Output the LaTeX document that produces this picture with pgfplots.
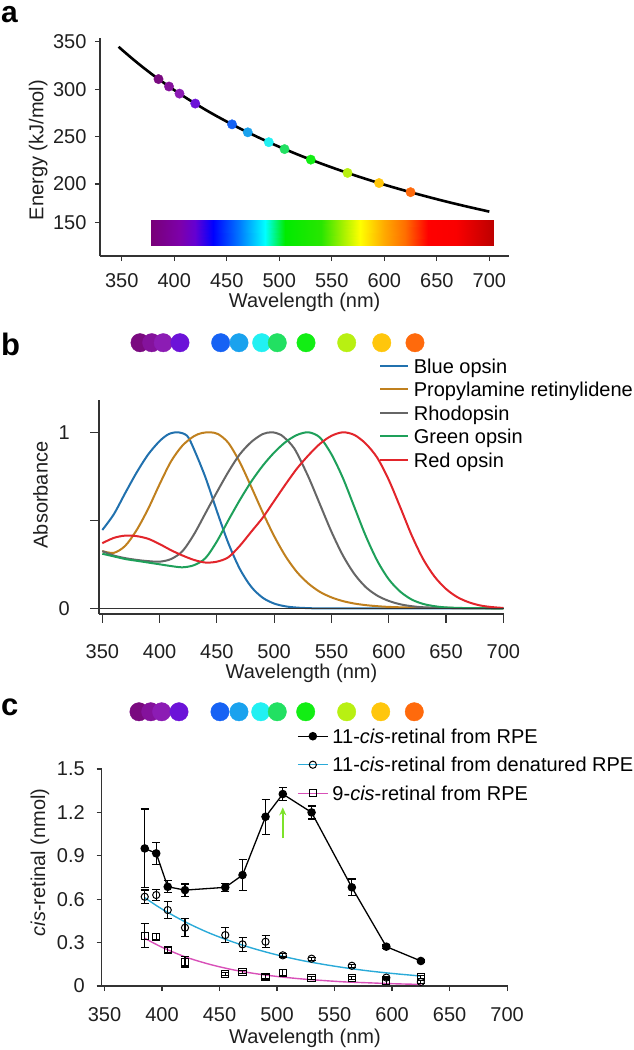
\documentclass[border=0pt]{standalone}
\usepackage{fontspec}
\setmainfont{Liberation Sans}
\usepackage{pgfplots}
\pgfplotsset{compat=1.18}
\usetikzlibrary{arrows.meta}

\definecolor{axgray}{HTML}{333333}
\definecolor{bopsin}{HTML}{2171AE}
\definecolor{propyl}{HTML}{C0801E}
\definecolor{rhod}{HTML}{666666}
\definecolor{gopsin}{HTML}{1EA05A}
\definecolor{ropsin}{HTML}{E2252B}
\definecolor{cfit}{HTML}{2AAAD8}
\definecolor{mfit}{HTML}{D850B8}
\definecolor{garrow}{HTML}{7DE22A}
\definecolor{d385}{HTML}{7A0A80}
\definecolor{d395}{HTML}{84129C}
\definecolor{d405}{HTML}{8C1CB4}
\definecolor{d420}{HTML}{6C12D8}
\definecolor{d455}{HTML}{1662F4}
\definecolor{d470}{HTML}{1AA2EE}
\definecolor{d490}{HTML}{22F0F2}
\definecolor{d505}{HTML}{22E062}
\definecolor{d530}{HTML}{12EE14}
\definecolor{d565}{HTML}{B8F012}
\definecolor{d595}{HTML}{FFC60C}
\definecolor{d625}{HTML}{FF6A0C}

\newcommand{\fs}{\fontsize{20}{24}\selectfont}

\pgfplotsset{
  base/.style={
    scale only axis, anchor=south west, clip=false,
    axis x line*=bottom, axis y line*=left,
    axis line style={-, line width=1.3pt, color=axgray},
    tick align=outside, major tick length=5pt,
    tick style={line width=1.2pt, color=axgray},
    tick label style={font=\fs, text=black!88},
    label style={font=\fs, text=black!88},
    /pgf/number format/assume math mode=true,
    xtick={350,400,450,500,550,600,650,700},
  },
  dotcls/.style={scatter/classes={
    a={mark=*, draw=d385, fill=d385},
    b={mark=*, draw=d395, fill=d395},
    c={mark=*, draw=d405, fill=d405},
    d={mark=*, draw=d420, fill=d420},
    e={mark=*, draw=d455, fill=d455},
    f={mark=*, draw=d470, fill=d470},
    g={mark=*, draw=d490, fill=d490},
    h={mark=*, draw=d505, fill=d505},
    i={mark=*, draw=d530, fill=d530},
    j={mark=*, draw=d565, fill=d565},
    k={mark=*, draw=d595, fill=d595},
    l={mark=*, draw=d625, fill=d625}}},
}

\begin{document}
\begin{tikzpicture}
\useasboundingbox (0pt,0pt) rectangle (633pt,-1050pt);

\node[anchor=base west, font=\fontsize{30}{34}\selectfont\bfseries, inner sep=0pt] at (1pt,-22pt) {a};
\node[anchor=base west, font=\fontsize{31}{36}\selectfont\bfseries, inner sep=0pt] at (1pt,-355pt) {b};
\node[anchor=base west, font=\fontsize{31}{36}\selectfont\bfseries, inner sep=0pt] at (1pt,-715pt) {c};

% ---------------- panel a ----------------
\begin{axis}[base, at={(100pt,-256pt)}, width=409.3pt, height=217.7pt,
  xmin=329.3, xmax=719, ymin=124.1, ymax=353.6,
  ytick={159.2,200,250,300,350}, yticklabels={150,200,250,300,350},
  xticklabel style={anchor=center, yshift=-19.7pt},
  yticklabel style={anchor=east, xshift=-5pt},
  xlabel={Wavelength (nm)}, ylabel={Energy (kJ/mol)},
  xlabel style={at={(axis description cs:0.5,-0.211)}, anchor=center},
  ylabel style={at={(axis description cs:-0.1507,0.487)}, anchor=center},
  colormap={spec}{rgb255(378)=(120,0,120); rgb255(405)=(125,0,170); rgb255(420)=(100,0,210);
    rgb255(437)=(0,0,255); rgb255(462)=(0,120,255); rgb255(486)=(0,255,255);
    rgb255(505)=(0,235,0); rgb255(540)=(40,230,0); rgb255(560)=(160,240,0);
    rgb255(577)=(255,255,0); rgb255(600)=(255,170,0); rgb255(620)=(255,110,0);
    rgb255(642)=(255,0,0); rgb255(668)=(250,0,0); rgb255(703.6)=(190,0,0)},
  point meta min=378, point meta max=703.6]
\addplot[surf, shader=interp, mesh/rows=2, point meta=x] coordinates {
 (378,135.7) (405,135.7) (420,135.7) (437,135.7) (462,135.7) (486,135.7) (505,135.7) (540,135.7)
 (560,135.7) (577,135.7) (600,135.7) (620,135.7) (642,135.7) (668,135.7) (703.6,135.7)

 (378,162.1) (405,162.1) (420,162.1) (437,162.1) (462,162.1) (486,162.1) (505,162.1) (540,162.1)
 (560,162.1) (577,162.1) (600,162.1) (620,162.1) (642,162.1) (668,162.1) (703.6,162.1)
};
\addplot[black, line width=2.6pt, smooth] coordinates {
 (347,344.7) (350,341.7) (360,332.2) (370,323.2) (380,314.7) (390,306.7) (400,299.0)
 (410,291.7) (420,284.8) (430,278.1) (440,271.8) (450,265.8) (460,260.0) (470,254.5)
 (480,249.2) (490,244.1) (500,239.2) (520,230.0) (540,221.5) (560,213.6) (580,206.2)
 (600,199.3) (620,192.9) (640,186.9) (660,181.2) (680,175.9) (700,170.9)
};
\addplot[scatter, only marks, scatter src=explicit symbolic, dotcls, mark size=4.7pt]
 table[meta=c] {
x y c
385 310.6 a
395 302.8 b
405 295.3 c
420 284.8 d
455 262.9 e
470 254.5 f
490 244.1 g
505 236.8 h
530 225.7 i
565 211.7 j
595 201.0 k
625 191.4 l
};
\end{axis}

% ---------------- panel b ----------------
\begin{axis}[base, at={(99pt,-614pt)}, width=405pt, height=214pt,
  xmin=347.1, xmax=700.6, ymin=-0.0324, ymax=1.1835,
  major tick length=8.5pt,
  ytick={0,0.5,1}, yticklabels={0,,1},
  xticklabel style={anchor=center, yshift=-29pt},
  yticklabel style={anchor=east, xshift=-17.3pt},
  xlabel={Wavelength (nm)}, ylabel={Absorbance},
  xlabel style={at={(axis description cs:0.5,-0.277)}, anchor=center},
  ylabel style={at={(axis description cs:-0.1444,0.556)}, anchor=center},
  legend style={at={(0.692,1.1937)}, anchor=north west, draw=none, fill=none,
    font=\fs, inner sep=0pt, row sep=9.2pt, column sep=5pt,
    nodes={inner sep=0pt, text height=14.3pt, text depth=0pt}},
  legend cell align=left,
  legend image code/.code={\draw[#1] (0pt,0pt) -- (27.4pt,0pt);}]
\addplot[bopsin, line width=2pt, smooth] coordinates {
 (350,0.445) (360,0.534) (370,0.655) (380,0.772) (390,0.874) (400,0.950) (408,0.99)
 (416,1.0) (424,0.98) (430,0.904) (440,0.744) (450,0.552) (460,0.370) (470,0.224)
 (480,0.122) (490,0.060) (500,0.027) (510,0.011) (520,0.004) (530,0.001) (540,0)
 (600,0) (700,0)
};
\addlegendentry{Blue opsin}
\addplot[propyl, line width=2pt, smooth] coordinates {
 (350,0.325) (360,0.315) (370,0.355) (380,0.445) (390,0.565) (400,0.705) (410,0.835)
 (420,0.925) (430,0.978) (437,0.996) (444,1.0) (451,0.99) (460,0.94) (470,0.83) (480,0.69)
 (490,0.545) (500,0.41) (510,0.295) (520,0.205) (530,0.14) (540,0.093) (550,0.062)
 (560,0.041) (570,0.027) (580,0.018) (590,0.012) (600,0.008) (620,0.004) (650,0.002) (700,0)
};
\addlegendentry{Propylamine retinylidene}
\addplot[rhod, line width=2pt, smooth] coordinates {
 (350,0.325) (360,0.30) (370,0.285) (380,0.275) (390,0.268) (400,0.265) (410,0.28)
 (420,0.325) (430,0.42) (440,0.54) (450,0.66) (460,0.775) (470,0.875) (480,0.945)
 (490,0.99) (498,1.0) (506,0.985) (515,0.93) (520,0.88) (530,0.745) (540,0.59) (550,0.435)
 (560,0.30) (570,0.195) (580,0.12) (590,0.072) (600,0.042) (610,0.023) (620,0.012)
 (630,0.006) (650,0.002) (700,0)
};
\addlegendentry{Rhodopsin}
\addplot[gopsin, line width=2pt, smooth] coordinates {
 (350,0.31) (360,0.295) (370,0.28) (380,0.27) (390,0.26) (400,0.25) (410,0.24)
 (420,0.233) (430,0.245) (440,0.285) (450,0.38) (460,0.50) (470,0.615) (480,0.72)
 (490,0.81) (500,0.885) (510,0.945) (520,0.985) (530,1.0) (540,0.97) (550,0.875)
 (560,0.74) (570,0.575) (580,0.41) (590,0.27) (600,0.165) (610,0.095) (620,0.05)
 (630,0.025) (640,0.012) (650,0.005) (670,0.001) (700,0)
};
\addlegendentry{Green opsin}
\addplot[ropsin, line width=2pt, smooth] coordinates {
 (350,0.37) (360,0.40) (370,0.413) (380,0.41) (390,0.395) (400,0.365) (410,0.33)
 (420,0.30) (430,0.275) (440,0.26) (450,0.265) (460,0.29) (470,0.355) (480,0.435)
 (490,0.515) (500,0.61) (510,0.705) (520,0.795) (530,0.87) (540,0.935) (550,0.98)
 (560,1.0) (570,0.985) (580,0.935) (590,0.855) (600,0.73) (610,0.575) (620,0.415)
 (630,0.28) (640,0.18) (650,0.11) (660,0.063) (670,0.034) (680,0.016) (690,0.007) (700,0.002)
};
\addlegendentry{Red opsin}
\addplot[axgray, line width=1.4pt, forget plot] coordinates {(340.7,0) (700.6,0)};
\addplot[scatter, only marks, scatter src=explicit symbolic, dotcls, mark size=9.2pt, forget plot]
 table[meta=c] {
x y c
382.9 1.509 a
393.1 1.509 b
403.2 1.509 c
417.8 1.509 d
453.3 1.509 e
469.3 1.509 f
489.1 1.509 g
502.7 1.509 h
527.8 1.509 i
563.3 1.509 j
593.9 1.509 k
622.9 1.509 l
};
\end{axis}

% ---------------- panel c ----------------
\begin{axis}[base, at={(101.7pt,-986pt)}, width=406.6pt, height=217pt,
  xmin=347.6, xmax=701, ymin=0, ymax=1.5,
  ytick={0,0.3,0.6,0.9,1.2,1.5}, yticklabels={0,0.3,0.6,0.9,1.2,1.5},
  xticklabel style={anchor=center, yshift=-24pt},
  yticklabel style={anchor=east, xshift=-8.4pt},
  xlabel={Wavelength (nm)}, ylabel={\textit{cis}-retinal (nmol)},
  xlabel style={at={(axis description cs:0.5,-0.241)}, anchor=center},
  ylabel style={at={(axis description cs:-0.1517,0.57)}, anchor=center},
  legend style={at={(0.4803,1.185)}, anchor=north west, draw=none, fill=none,
    font=\fs, inner sep=0pt, row sep=14.2pt, column sep=4pt,
    nodes={inner sep=0pt, text height=14.3pt, text depth=0pt}},
  legend cell align=left,
  legend image code/.code={\draw[mark repeat=2, mark phase=2, #1] plot coordinates {(0pt,0pt) (15pt,0pt) (30pt,0pt)};}]
\addlegendimage{black, line width=1.3pt, mark=*, mark size=3.6pt}
\addlegendentry{11-\textit{cis}-retinal from RPE}
\addlegendimage{cfit, line width=1.3pt, mark=o, mark size=3.6pt, mark options={black, fill=white, line width=1pt}}
\addlegendentry{11-\textit{cis}-retinal from denatured RPE}
\addlegendimage{mfit, line width=1.3pt, mark=square, mark size=3.6pt, mark options={black, fill=white, line width=1pt}}
\addlegendentry{9-\textit{cis}-retinal from RPE}

\addplot[cfit, line width=1.4pt, smooth, forget plot] coordinates {
 (385,0.610) (400,0.532) (420,0.444) (440,0.370) (460,0.309) (480,0.258) (500,0.215)
 (520,0.179) (540,0.150) (560,0.125) (580,0.104) (600,0.087) (625,0.069)
};
\addplot[mfit, line width=1.4pt, smooth, forget plot] coordinates {
 (385,0.330) (400,0.268) (420,0.202) (440,0.153) (460,0.115) (480,0.087) (500,0.066)
 (520,0.050) (540,0.038) (560,0.028) (580,0.022) (600,0.016) (625,0.011)
};
\addplot[garrow, line width=1.6pt, -{Stealth[length=8pt, width=7pt]}, forget plot]
 coordinates {(505,1.02) (505,1.235)};
\addplot[black, line width=1.3pt, mark=*, mark size=3.6pt, forget plot,
  error bars/.cd, y dir=both, y explicit,
  error bar style={line width=1.2pt, black},
  error mark options={rotate=90, black, mark size=4pt, line width=1.2pt}]
 table[x=x, y=y, y error=e] {
x y e
385 0.951 0.272
395 0.917 0.077
405 0.686 0.042
420 0.663 0.042
455 0.682 0.027
470 0.767 0.106
490 1.170 0.122
505 1.327 0.046
530 1.200 0.045
565 0.682 0.058
595 0.272 0.012
625 0.173 0.010
};
\addplot[only marks, mark=o, mark size=3.6pt, mark options={black, fill=white, line width=1pt}, forget plot,
  error bars/.cd, y dir=both, y explicit,
  error bar style={line width=1.2pt, black},
  error mark options={rotate=90, black, mark size=4pt, line width=1.2pt}]
 table[x=x, y=y, y error=e] {
x y e
385 0.617 0.047
395 0.629 0.039
405 0.525 0.057
420 0.403 0.061
455 0.352 0.053
470 0.288 0.049
490 0.306 0.041
505 0.212 0.012
530 0.189 0.010
565 0.140 0.010
595 0.058 0.010
625 0.028 0.010
};
\addplot[only marks, mark=square, mark size=3.6pt, mark options={black, fill=white, line width=1pt}, forget plot,
  error bars/.cd, y dir=both, y explicit,
  error bar style={line width=1.2pt, black},
  error mark options={rotate=90, black, mark size=4pt, line width=1.2pt}]
 table[x=x, y=y, y error=e] {
x y e
385 0.348 0.082
395 0.341 0.023
405 0.249 0.020
420 0.168 0.037
455 0.083 0.010
470 0.097 0.010
490 0.064 0.015
505 0.092 0.020
530 0.057 0.010
565 0.055 0.010
595 0.033 0.020
625 0.060 0.010
};
\addplot[scatter, only marks, scatter src=explicit symbolic, dotcls, mark size=9.2pt, forget plot]
 table[meta=c] {
x y c
380.0 1.8956 a
390.2 1.8956 b
399.7 1.8956 c
414.8 1.8956 d
450.4 1.8956 e
466.9 1.8956 f
485.8 1.8956 g
500.2 1.8956 h
524.9 1.8956 i
560.5 1.8956 j
590.1 1.8956 k
619.3 1.8956 l
};
\end{axis}
\end{tikzpicture}
\end{document}
